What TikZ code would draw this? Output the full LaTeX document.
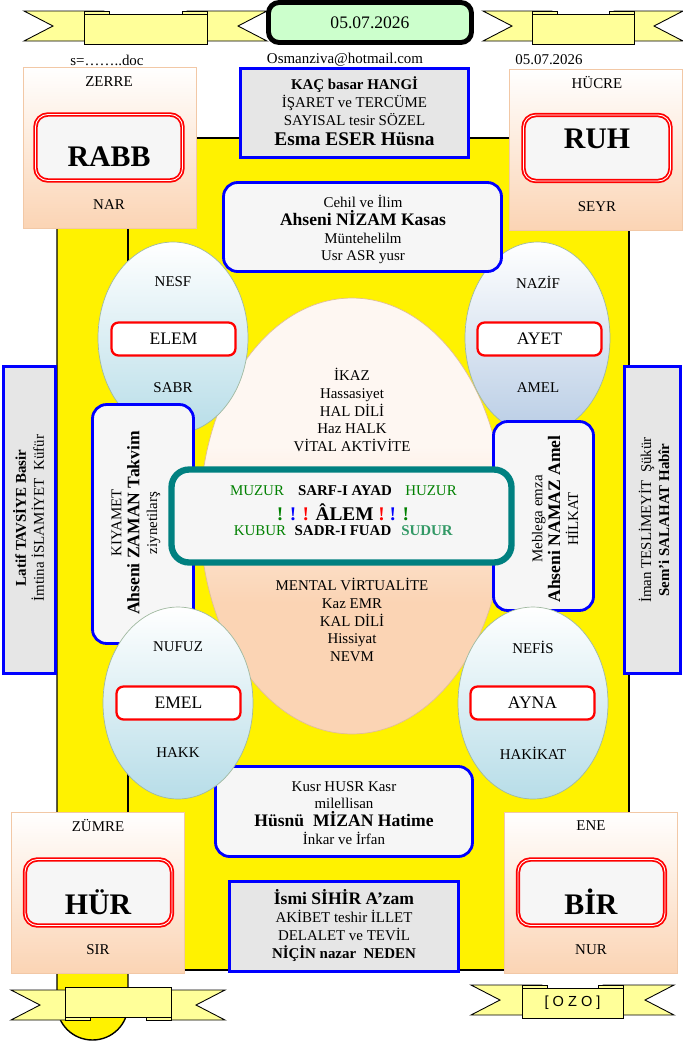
\documentclass[tikz,border=0pt]{standalone}
\usepackage{fontspec}
\setmainfont{Liberation Serif}
\newfontfamily\ozofont{Liberation Sans}
\usetikzlibrary{shapes.geometric,positioning}

\definecolor{banyellow}{RGB}{255,255,153}
\definecolor{mintbg}{RGB}{204,255,204}
\definecolor{boxgray}{RGB}{230,230,230}
\definecolor{boxwhite}{RGB}{246,246,246}
\definecolor{peach}{RGB}{251,212,180}
\definecolor{peachline}{RGB}{242,200,166}
\definecolor{eggwhite}{RGB}{254,247,242}
\definecolor{eggline}{RGB}{225,190,150}
\definecolor{skyblue}{RGB}{183,221,232}
\definecolor{steelblue}{RGB}{185,205,229}
\definecolor{ovalline}{RGB}{160,185,160}
\definecolor{tealline}{RGB}{0,128,128}
\definecolor{darkgreen}{RGB}{0,128,0}
\definecolor{seagreen}{RGB}{51,153,102}

\pgfdeclareverticalshading{eggshade}{100bp}{color(0bp)=(peach); color(40bp)=(peach); color(58bp)=(eggwhite); color(100bp)=(eggwhite)}

\newcommand{\nf}{\fontsize{8.5}{10.2}\selectfont}
\newcommand{\bigbf}{\fontsize{10}{12}\selectfont\bfseries}
\newcommand{\hugebf}{\fontsize{17}{20}\selectfont\bfseries}
\newcommand{\tabf}{\fontsize{10}{12}\selectfont}

% ribbon: name, centre x, centre y, half width, tail reach, fold side
\newcommand{\ribbon}[6]{%
  \begin{scope}[shift={(#2,#3)}]
    \foreach \d in {-1,1} {
      \draw[banner] ({\d*#5},{-15+3*(#6)}) -- ({\d*(#4-20)},{-15+3*(#6)}) -- ({\d*(#4-20)},{15+3*(#6)})
        -- ({\d*#5},{15+3*(#6)}) -- ({\d*(#5-29)},{3*(#6)}) -- cycle;
      \draw[banner] ({\d*#4},{15*(#6)}) rectangle ({\d*(#4-25)},{18*(#6)});
    }
    \node[bannerbox, minimum width=#4*0.04cm] (#1) at (0,0) {};
  \end{scope}}

\begin{document}
\begin{tikzpicture}[x=0.02cm, y=-0.02cm,
  frame/.style={fill=yellow, draw=black, line width=0.8pt},
  banner/.style={fill=banyellow, draw=black, line width=0.5pt},
  bannerbox/.style={rectangle, banner, minimum height=0.6cm, inner sep=0pt},
  datebox/.style={rectangle, rounded corners=6pt, draw=black, line width=2.8pt, fill=mintbg,
    minimum width=4.06cm, minimum height=0.8cm},
  txt/.style={font=\nf, align=center, inner sep=0pt},
  cornerbox/.style={rectangle, draw=peachline, line width=0.4pt, top color=white, bottom color=peach,
    minimum width=3.46cm, minimum height=3.22cm, inner sep=0pt},
  bigred/.style={rectangle, rounded corners=7pt, draw=red, line width=1pt, double=white,
    double distance=0.5pt, fill=boxwhite, minimum width=2.94cm, minimum height=1.32cm, inner sep=0pt},
  redtab/.style={rectangle, rounded corners=4pt, draw=red, line width=1.3pt, fill=white,
    minimum width=2.48cm, minimum height=0.66cm, inner sep=0pt, font=\tabf},
  graybox/.style={rectangle, draw=blue, line width=1.6pt, fill=boxgray, inner sep=0pt},
  bluebox/.style={rectangle, rounded corners=8pt, draw=blue, line width=1.6pt, fill=boxwhite, inner sep=0pt},
  tealbox/.style={rectangle, rounded corners=10pt, draw=tealline, line width=3.6pt, fill=boxwhite, inner sep=0pt},
  oval/.style={ellipse, draw=ovalline, line width=0.4pt, top color=white, bottom color=skyblue,
    minimum width=3cm, minimum height=3.84cm, inner sep=0pt}]
\useasboundingbox (0,0) rectangle (683,1042);

% yellow frame
\filldraw[frame] (57,150) -- (57,1005) arc[start angle=180, end angle=360, x radius=0.71cm, y radius=0.7cm]
  -- (128,150) -- cycle;
\filldraw[frame] (128,138) rectangle (629,970);

% ribbons and date
\ribbon{ribtl}{145.5}{29}{61.5}{121.5}{-1}
\ribbon{ribtr}{583}{29}{51}{100}{-1}
\ribbon{ribbl}{118}{1002}{53}{107}{1}
\ribbon{ribbr}{572.5}{1003}{50.5}{101.5}{-1}
\node[font=\ozofont\fontsize{8.3}{10}\selectfont, inner sep=0pt] (ozo) at (ribbr) {[ O Z O ]};
\node[datebox] (date) at (370,22.5) {\fontsize{10}{12}\selectfont 05.07.2026};

\node[txt] (docname) at (107,60) {s=……..doc};
\node[txt] (mail) at (345,60) {Osmanziva@hotmail.com};
\node[txt] (topdate) at (549,60) {05.07.2026};

% corner boxes
\node[cornerbox] (zerrebox) at (109.5,147.5) {};
\node[cornerbox] (hucrebox) at (596,149.5) {};
\node[cornerbox] (zumrebox) at (97.5,892.5) {};
\node[cornerbox] (enebox) at (591,892.5) {};
\node[bigred] (rabbbox) at (109,147.5) {};
\node[bigred] (ruhbox) at (597,148) {};
\node[bigred] (hurbox) at (98.5,892.5) {};
\node[bigred] (birbox) at (591.5,892.5) {};
\node[txt] (zerre) at (109,82) {ZERRE};
\node[txt, font=\hugebf] (rabb) at (109,157) {RABB};
\node[txt] (nar) at (109,205) {NAR};
\node[txt] (hucre) at (597,83) {HÜCRE};
\node[txt, font=\hugebf] (ruh) at (597,139) {RUH};
\node[txt] (seyr) at (597,207) {SEYR};
\node[txt] (zumre) at (98,826) {ZÜMRE};
\node[txt, font=\hugebf] (hur) at (98,902) {HÜR};
\node[txt] (sir) at (98,950) {SIR};
\node[txt] (ene) at (591,826) {ENE};
\node[txt, font=\hugebf] (bir) at (591,902) {BİR};
\node[txt] (nur) at (591,950) {NUR};

% grey boxes top and bottom
\node[graybox, minimum width=4.56cm, minimum height=1.78cm] (kacbox) at (354.5,113) {};
\node[txt] (kac) at (354.5,111.5) {\textbf{KAÇ basar HANGİ}\\İŞARET ve TERCÜME\\SAYISAL tesir SÖZEL\\[1.5pt]{\fontsize{11}{13}\selectfont\bfseries Esma ESER Hüsna}};
\node[graybox, minimum width=4.58cm, minimum height=1.8cm] (ismibox) at (344,926.5) {};
\node[txt] (ismi) at (344,925.5) {{\bigbf İsmi SİHİR A’zam}\\AKİBET teshir İLLET\\DELALET ve TEVİL\\\textbf{NİÇİN nazar\ \ NEDEN}};

% egg
\node[ellipse, draw=eggline, line width=0.4pt, shade, shading=eggshade, minimum width=6.08cm,
  minimum height=8.72cm, inner sep=0pt] (egg) at (352,516) {};
\node[txt] (ikaz) at (352,410) {İKAZ\\Hassasiyet\\HAL DİLİ\\Haz HALK\\VİTAL AKTİVİTE};
\node[txt] (mental) at (352,620) {MENTAL VİRTUALİTE\\Kaz EMR\\KAL DİLİ\\Hissiyat\\NEVM};

% upper ovals
\node[oval] (nesf) at (173,338) {};
\node[oval, bottom color=steelblue, minimum width=2.9cm] (nazif) at (537.5,338) {};

% blue boxes
\node[bluebox, minimum width=5.56cm, minimum height=1.78cm] (cehilbox) at (362.5,227) {};
\node[txt] (cehil) at (363,229.5) {Cehil ve İlim\\{\bigbf Ahseni NİZAM Kasas}\\Müntehelilm\\Usr ASR yusr};
\node[bluebox, minimum width=5.14cm, minimum height=1.8cm] (kusrbox) at (344,811.5) {};
\node[txt] (kusr) at (344,813) {Kusr HUSR Kasr\\milellisan\\{\bigbf Hüsnü\ \ MİZAN Hatime}\\İnkar ve İrfan};
\node[bluebox, minimum width=2.02cm, minimum height=4.78cm] (kiyametbox) at (143,524) {};
\node[bluebox, minimum width=2cm, minimum height=3.78cm] (meblegabox) at (543.5,516) {};
\node[txt, rotate=90] (kiyamet) at (136,523) {KIYAMET\\{\bigbf Ahseni ZAMAN Takvim}\\ziynetilarş};
\node[txt, rotate=90] (meblega) at (555,519) {Meblega emza\\{\bigbf Ahseni NAMAZ Amel}\\HİLKAT};

% lower ovals
\node[oval] (nufuz) at (178,703) {};
\node[oval] (nefis) at (533,703) {};

% centre
\node[tealbox, minimum width=6.8cm, minimum height=1.86cm] (alembox) at (341.5,516) {};
\node[txt, text=darkgreen] (muzur) at (257,491) {MUZUR};
\node[txt, font=\nf\bfseries] (sarf) at (345,491) {SARF-I AYAD};
\node[txt, text=darkgreen] (huzur) at (431,491) {HUZUR};
\node[txt, font=\fontsize{11}{13}\selectfont\bfseries] (alem) at (343,512) {\textcolor{darkgreen}{!} \textcolor{blue}{!} \textcolor{red}{!} ÂLEM \textcolor{red}{!} \textcolor{blue}{!} \textcolor{darkgreen}{!}};
\node[txt, text=darkgreen] (kubur) at (260,531) {KUBUR};
\node[txt, font=\nf\bfseries] (sadr) at (343,531) {SADR-I FUAD};
\node[txt, text=seagreen, font=\nf\bfseries] (sudur) at (427,531) {SUDUR};

% tabs and labels in ovals
\node[redtab] (elem) at (173.5,339) {ELEM};
\node[redtab] (ayet) at (539.5,339) {AYET};
\node[redtab] (emel) at (178.5,703) {EMEL};
\node[redtab] (ayna) at (532.5,703) {AYNA};
\node[txt] (nesflbl) at (173,282) {NESF};
\node[txt] (sabr) at (173,388) {SABR};
\node[txt] (naziflbl) at (538,282) {NAZİF};
\node[txt] (amel) at (538,388) {AMEL};
\node[txt] (nufuzlbl) at (178,647) {NUFUZ};
\node[txt] (hakk) at (178,753) {HAKK};
\node[txt] (nefislbl) at (533,647) {NEFİS};
\node[txt] (hakikat) at (533,753) {HAKİKAT};

% side bars
\node[graybox, minimum width=1.04cm, minimum height=6.14cm] (latifbox) at (29.5,520) {};
\node[txt, rotate=90] (latif) at (28.5,518) {\textbf{Latif TAVSİYE Basir}\\İmtina İSLAMİYET\ \ Küfür};
\node[graybox, minimum width=1.12cm, minimum height=6.14cm] (imanbox) at (652.5,520) {};
\node[txt, rotate=90] (iman) at (654,520) {İman TESLİMEYİT\ \ Şükür\\\textbf{Sem’i SALAHAT Habîr}};
\end{tikzpicture}
\end{document}
